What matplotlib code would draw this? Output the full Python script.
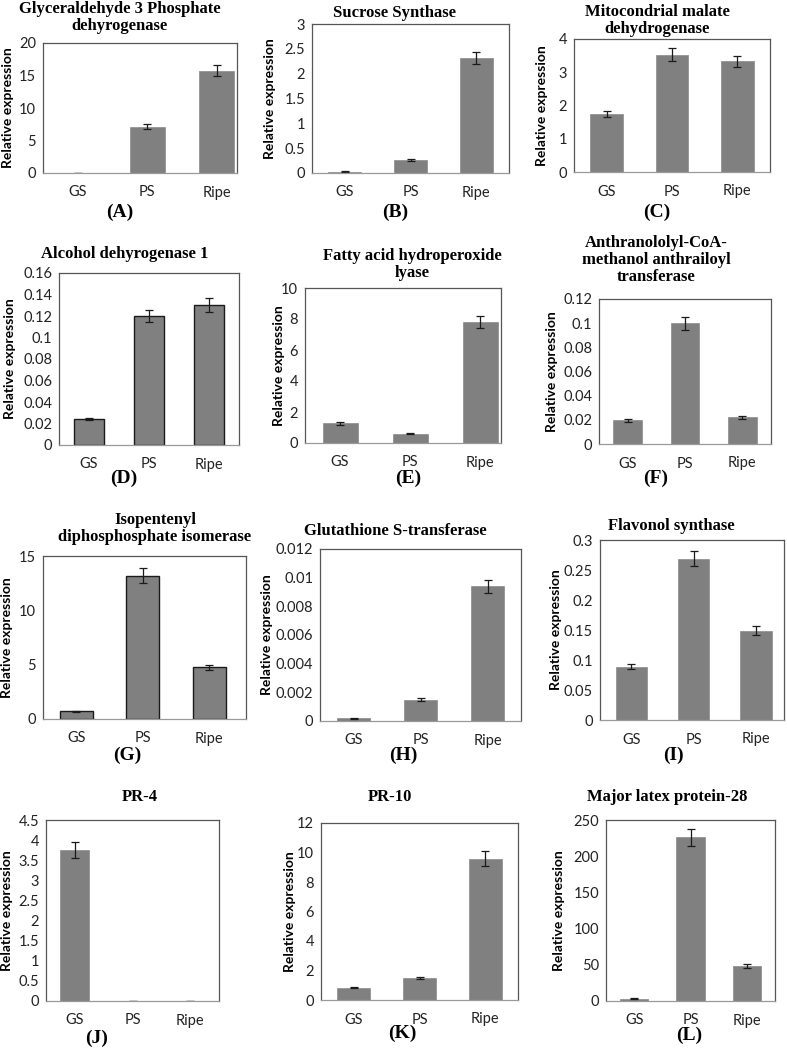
import matplotlib
matplotlib.use("Agg")
import matplotlib.pyplot as plt
from matplotlib.ticker import FuncFormatter
import numpy as np

W, H = 787, 1050
stages = ["GS", "PS", "Ripe"]

# values (relative expression) and error bars
gapdh = [0.05, 7.1, 15.7];          gapdh_err = [0.02, 0.4, 0.85]
sus = [0.03, 0.26, 2.31];           sus_err = [0.01, 0.02, 0.12]
mdh = [1.74, 3.53, 3.33];           mdh_err = [0.1, 0.19, 0.17]
adh = [0.0245, 0.12, 0.13];         adh_err = [0.001, 0.006, 0.0065]
hpl = [1.27, 0.6, 7.82];            hpl_err = [0.1, 0.04, 0.4]
amat = [0.0195, 0.0999, 0.0223];    amat_err = [0.001, 0.0055, 0.0012]
ipi = [0.7, 13.2, 4.75];            ipi_err = [0.05, 0.7, 0.2]
gst = [0.0002, 0.0015, 0.0094];     gst_err = [0.00003, 0.00007, 0.00045]
fls = [0.089, 0.269, 0.149];        fls_err = [0.0045, 0.013, 0.008]
pr4 = [3.75, 0.0, 0.01];            pr4_err = [0.2, 0.0, 0.0]
pr10 = [0.83, 1.47, 9.57];          pr10_err = [0.03, 0.08, 0.5]
mlp = [3.2, 226, 48];               mlp_err = [0.5, 11.5, 3]

titles = ["Glyceraldehyde 3 Phosphate\ndehyrogenase", "Sucrose Synthase",
          "Mitocondrial malate\ndehydrogenase", "Alcohol dehyrogenase 1",
          "Fatty acid hydroperoxide\nlyase", "Anthranololyl-CoA-\nmethanol anthrailoyl\ntransferase",
          "Isopentenyl\ndiphosphosphate isomerase", "Glutathione S-transferase", "Flavonol synthase",
          "PR-4", "PR-10", "Major latex protein-28"]
letters = ["(A)", "(B)", "(C)", "(D)", "(E)", "(F)", "(G)", "(H)", "(I)", "(J)", "(K)", "(L)"]
series = [(gapdh, gapdh_err), (sus, sus_err), (mdh, mdh_err), (adh, adh_err), (hpl, hpl_err),
          (amat, amat_err), (ipi, ipi_err), (gst, gst_err), (fls, fls_err), (pr4, pr4_err),
          (pr10, pr10_err), (mlp, mlp_err)]
ymax = [20, 3, 4, 0.16, 10, 0.12, 15, 0.012, 0.3, 4.5, 12, 250]
ystep = [5, 0.5, 1, 0.02, 2, 0.02, 5, 0.002, 0.05, 0.5, 2, 50]

# layout in pixels: axes box (x0, x1, ytop, ybottom), title first-line centre, letter centre, ylabel x
boxes = [(43, 237, 43, 173), (312, 509, 24, 173), (574, 770, 39, 172),
         (59, 239, 273, 445), (305, 501, 288, 443), (599, 771, 299, 444),
         (43, 246, 556, 719), (320, 521, 549, 721), (600, 784, 540, 720),
         (46, 219, 820, 1001), (321, 518, 823, 1000), (606, 775, 820, 1001)]
xright = [2.29, 2.5, 2.5, 2.5, 2.3, 2.5, 2.55, 2.5, 2.45, 2.5, 2.5, 2.5]
title_pos = [(120, 10), (395, 14), (657, 13), (125, 255), (412, 257), (656, 244),
             (155, 521), (395, 532), (671, 527), (140, 798), (390, 798), (667, 798)]
letter_pos = [(120, 212), (395, 212), (657, 212), (124, 478), (408, 478), (656, 478),
              (127, 755), (403, 755), (673, 755), (97, 1038), (402, 1033), (689, 1035)]
ylab_x = [8, 270, 542, 10, 279, 552, 7, 267, 556, 7, 290, 559]
edged = [False, False, False, True, False, False, True, False, False, False, False, False]

fig = plt.figure(figsize=(W / 100, H / 100), dpi=100)
fmt = FuncFormatter(lambda v, p: f"{v:g}")
TICKFONT = "Lato"
TITLE_FS = 12

for i, (vals, errs) in enumerate(series):
    x0, x1, yt, yb = boxes[i]
    ax = fig.add_axes([x0 / W, 1 - yb / H, (x1 - x0) / W, (yb - yt) / H])
    x = np.arange(3)
    ax.bar(x, vals, width=0.5, color="#808080",
           edgecolor="#1a1a1a" if edged[i] else "#8a8a8a", linewidth=1.0 if edged[i] else 0.5)
    ax.errorbar(x, vals, yerr=errs, fmt="none", ecolor="#1a1a1a", elinewidth=0.9,
                capsize=3, capthick=0.9)
    ax.set_xlim(-0.5, xright[i])
    ax.set_ylim(0, ymax[i])
    ax.set_yticks(np.linspace(0, ymax[i], int(round(ymax[i] / ystep[i])) + 1))
    ax.yaxis.set_major_formatter(fmt)
    ax.set_xticks(x)
    ax.set_xticklabels(stages)
    ax.tick_params(length=0, labelsize=10.5, colors="#222222", pad=5)
    ax.tick_params(axis="x", pad=9)
    for lab in ax.get_xticklabels() + ax.get_yticklabels():
        lab.set_fontfamily(TICKFONT)
    for s in ax.spines.values():
        s.set_color("#555555")
        s.set_linewidth(0.9)
    ax.spines["bottom"].set_color("#999999")

    tx, ty = title_pos[i]
    fig.text(tx / W, 1 - (ty - 9) / H, titles[i], ha="center", va="top", family="Liberation Serif",
             fontweight="bold", fontsize=TITLE_FS, linespacing=1.1)
    lx, ly = letter_pos[i]
    fig.text(lx / W, 1 - ly / H, letters[i], ha="center", va="center", family="Liberation Serif",
             fontweight="bold", fontsize=14)
    fig.text(ylab_x[i] / W, 1 - (yt + yb) / 2 / H, "Relative expression", rotation=90,
             ha="center", va="center", family=TICKFONT, fontweight="bold", fontsize=10)

fig.savefig("out.png", dpi=100)
